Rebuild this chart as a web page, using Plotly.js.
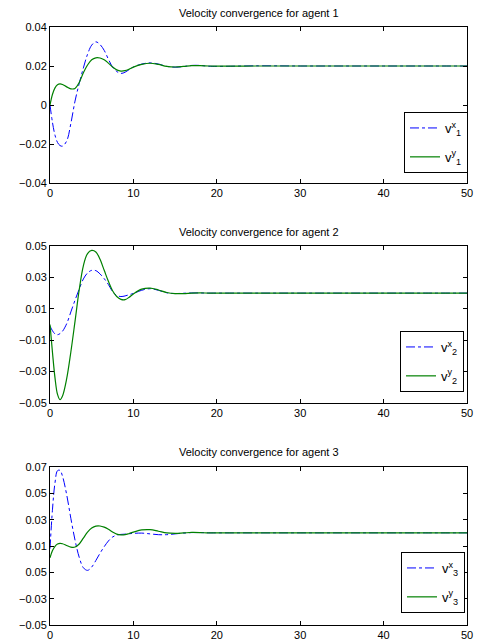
<!DOCTYPE html>
<html>
<head>
<meta charset="utf-8">
<script src="https://cdn.plot.ly/plotly-3.0.1.min.js"></script>
<style>html,body{margin:0;padding:0;background:#fff;}#chart{width:477px;height:643px;}</style>
</head>
<body>
<div id="chart"></div>
<script>
// time samples
const t = [0, 0.3, 0.6, 0.9, 1.2, 1.5, 2, 2.5, 3, 3.5, 4, 4.5, 5, 5.5, 6, 6.5, 7, 7.5, 8, 8.5, 9, 9.5, 10, 11, 12, 13, 14, 15, 16, 17, 18, 19, 20, 25, 30, 35, 40, 45, 50];

// agent 1
const v1x = [0, -0.009, -0.0155, -0.0192, -0.0208, -0.0211, -0.0185, -0.0095, 0.002, 0.011, 0.019, 0.026, 0.0307, 0.0324, 0.031, 0.028, 0.0235, 0.0195, 0.0172, 0.0162, 0.0168, 0.0182, 0.0195, 0.021, 0.0216, 0.021, 0.0198, 0.0194, 0.0197, 0.0203, 0.0203, 0.0199, 0.0198, 0.0201, 0.02, 0.02, 0.02, 0.02, 0.02];
const v1y = [0, 0.0055, 0.0088, 0.0104, 0.0108, 0.0105, 0.0093, 0.0083, 0.0085, 0.0115, 0.0165, 0.0205, 0.0232, 0.0242, 0.0241, 0.0232, 0.0215, 0.0195, 0.018, 0.0174, 0.0176, 0.0184, 0.0194, 0.0208, 0.0214, 0.0208, 0.0198, 0.0195, 0.0198, 0.0202, 0.0202, 0.02, 0.0199, 0.02, 0.02, 0.02, 0.02, 0.02, 0.02];

// agent 2
const v2x = [-0.001, -0.004, -0.006, -0.0065, -0.0058, -0.0043, 0.0005, 0.008, 0.0155, 0.0225, 0.029, 0.0328, 0.0345, 0.0343, 0.0322, 0.0292, 0.0255, 0.021, 0.0185, 0.0178, 0.0182, 0.019, 0.0198, 0.0218, 0.0228, 0.0218, 0.0202, 0.0197, 0.0199, 0.0201, 0.0201, 0.02, 0.02, 0.02, 0.02, 0.02, 0.02, 0.02, 0.02];
const v2y = [0, -0.018, -0.034, -0.0445, -0.0479, -0.0455, -0.0345, -0.0175, 0.002, 0.022, 0.0374, 0.0452, 0.0472, 0.0462, 0.0415, 0.0345, 0.0275, 0.0215, 0.0178, 0.016, 0.0158, 0.0174, 0.0195, 0.0225, 0.0232, 0.022, 0.0204, 0.0197, 0.0197, 0.02, 0.0201, 0.02, 0.02, 0.02, 0.02, 0.02, 0.02, 0.02, 0.02];

// agent 3
const v3x = [0.008, 0.038, 0.058, 0.0672, 0.0675, 0.063, 0.049, 0.031, 0.0145, 0.0015, -0.0065, -0.0085, -0.006, -0.001, 0.0045, 0.0095, 0.0138, 0.0168, 0.0183, 0.0188, 0.019, 0.0193, 0.0196, 0.0198, 0.0192, 0.0186, 0.0186, 0.0192, 0.0198, 0.0202, 0.0202, 0.02, 0.02, 0.02, 0.02, 0.02, 0.02, 0.02, 0.02];
const v3y = [0.001, 0.0065, 0.0098, 0.0115, 0.012, 0.0117, 0.0104, 0.0092, 0.0092, 0.0115, 0.016, 0.0205, 0.0236, 0.0251, 0.0252, 0.0243, 0.0227, 0.0207, 0.019, 0.0184, 0.0186, 0.0195, 0.0205, 0.0222, 0.0224, 0.0212, 0.0199, 0.0196, 0.0199, 0.0203, 0.0202, 0.0199, 0.02, 0.02, 0.02, 0.02, 0.02, 0.02, 0.02];

const titles = ["Velocity convergence for agent 1", "Velocity convergence for agent 2", "Velocity convergence for agent 3"];
const xTicks = [0, 10, 20, 30, 40, 50];
const yTickVals1 = [-0.04, -0.02, 0, 0.02, 0.04];
const yTickText1 = ["\u22120.04", "\u22120.02", "0", "0.02", "0.04"];
const yTickVals2 = [-0.05, -0.03, -0.01, 0.01, 0.03, 0.05];
const yTickText2 = ["\u22120.05", "\u22120.03", "\u22120.01", "0.01", "0.03", "0.05"];
const yTickVals3 = [-0.05, -0.03, -0.01, 0.01, 0.03, 0.05, 0.07];
const yTickText3 = ["\u22120.05", "\u22120.03", "0.05", "0.01", "0.03", "0.05", "0.07"];

const series = [[v1x, v1y], [v2x, v2y], [v3x, v3y]];
const FONT = "Liberation Sans, Arial, Helvetica, sans-serif";

const traces = [];
series.forEach((pair, i) => {
  const n = i + 1;
  const ax = n === 1 ? '' : String(n);
  const lg = n === 1 ? 'legend' : 'legend' + n;
  traces.push({
    x: t, y: pair[0], xaxis: 'x' + ax, yaxis: 'y' + ax, legend: lg,
    type: 'scatter', mode: 'lines', name: 'v<sup>x</sup><sub>' + n + '</sub>',
    legendgroup: 'a' + n,
    line: {color: '#0000ff', width: 1, dash: 'dashdot', shape: 'spline', smoothing: 1}
  });
  traces.push({
    x: t, y: pair[1], xaxis: 'x' + ax, yaxis: 'y' + ax, legend: lg,
    type: 'scatter', mode: 'lines', name: 'v<sup>y</sup><sub>' + n + '</sub>',
    legendgroup: 'b' + n,
    line: {color: '#008000', width: 1.2, shape: 'spline', smoothing: 1}
  });
});

const H = 643, W = 477;
const px2y = p => 1 - p / H;
const xDom = [50 / W, 467 / W];
const yDoms = [[px2y(183), px2y(27)], [px2y(403), px2y(246)], [px2y(625), px2y(467)]];
const yRanges = [[-0.04, 0.04], [-0.05, 0.05], [-0.05, 0.07]];
const yTV = [yTickVals1, yTickVals2, yTickVals3];
const yTT = [yTickText1, yTickText2, yTickText3];
const titleY = [13, 232, 452];
const legPos = [[468, 112], [464, 331], [465, 552]];

const axBase = {
  showline: true, linecolor: '#000', linewidth: 1, mirror: 'ticks',
  ticks: 'inside', ticklen: 4, tickcolor: '#000', tickwidth: 1,
  showgrid: false, zeroline: false,
  tickfont: {family: FONT, size: 11, color: '#000'}
};

const layout = {
  width: W, height: H,
  margin: {l: 0, r: 0, t: 0, b: 0},
  paper_bgcolor: '#fff', plot_bgcolor: '#fff',
  font: {family: FONT, size: 11, color: '#000'},
  annotations: [],
  showlegend: true
};

for (let i = 0; i < 3; i++) {
  const ax = i === 0 ? '' : String(i + 1);
  layout['xaxis' + ax] = Object.assign({}, axBase, {
    domain: xDom, anchor: 'y' + ax, range: [0, 50], tickvals: xTicks
  });
  layout['yaxis' + ax] = Object.assign({}, axBase, {
    domain: yDoms[i], anchor: 'x' + ax, range: yRanges[i],
    tickvals: yTV[i], ticktext: yTT[i]
  });
  layout.annotations.push({
    text: titles[i], xref: 'paper', yref: 'paper',
    x: (xDom[0] + xDom[1]) / 2, y: px2y(titleY[i]),
    xanchor: 'center', yanchor: 'middle', showarrow: false,
    font: {family: FONT, size: 11, color: '#000'}
  });
  const lgName = i === 0 ? 'legend' : 'legend' + (i + 1);
  layout[lgName] = {
    x: legPos[i][0] / W, xanchor: 'right', xref: 'paper',
    y: px2y(legPos[i][1]), yanchor: 'top', yref: 'paper',
    bgcolor: '#fff', bordercolor: '#000', borderwidth: 1,
    font: {family: FONT, size: 13, color: '#000'},
    tracegroupgap: 9, itemwidth: 30
  };
}

Plotly.newPlot('chart', traces, layout, {displayModeBar: false, staticPlot: true});
</script>
</body>
</html>
